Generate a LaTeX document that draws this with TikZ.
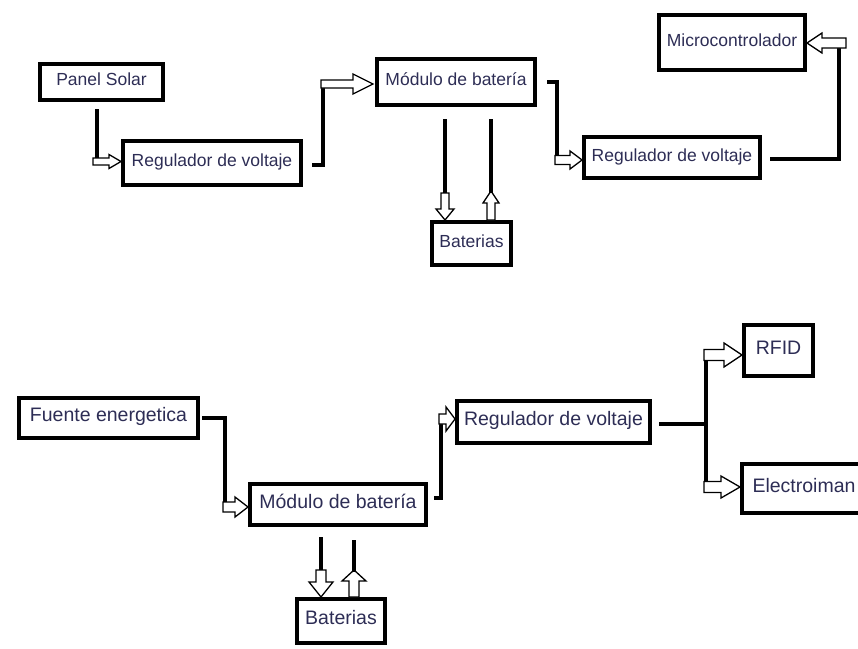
\documentclass[tikz,border=0pt]{standalone}
\usepackage{fontspec}
\setmainfont{Liberation Sans}
\definecolor{ink}{RGB}{45,45,85}
\begin{document}
\begin{tikzpicture}[x=1pt,y=-1pt,
  box/.style={draw=black, line width=4pt, inner sep=0pt, text=ink,
    text height=0.72em, text depth=0pt},
  small/.style={font=\fontsize{17.5}{20}\selectfont},
  large/.style={font=\fontsize{19.5}{22}\selectfont},
  conn/.style={draw=black, line width=4pt},
  arrowline/.style={draw=black, fill=white, line width=1.3pt, line join=miter},
  % hollow block arrow pointing along +x:
  % #1 length, #2 head length, #3 shaft width, #4 head width
  pics/barrow/.style n args={4}{code={
    \draw[arrowline] (0,{#3/2}) -- ({#1-#2},{#3/2}) -- ({#1-#2},{#4/2}) -- (#1,0)
      -- ({#1-#2},{-#4/2}) -- ({#1-#2},{-#3/2}) -- (0,{-#3/2}) -- cycle;
  }}
]
\useasboundingbox (0,0) rectangle (858,648);
\clip (0,0) rectangle (858,648);

% ---------- upper chain ----------
\node[box, small, minimum width=123pt, minimum height=36pt] (solar) at (101.5,82) {Panel Solar};
\node[box, small, minimum width=178pt, minimum height=44pt] (reg1) at (212,163) {Regulador de voltaje};
\node[box, small, minimum width=158pt, minimum height=46pt] (mod1) at (456,82) {Módulo de batería};
\node[box, small, minimum width=79pt, minimum height=43pt] (bat1) at (471.5,243.5) {Baterias};
\node[box, small, minimum width=176pt, minimum height=41pt] (reg2) at (672,157.5) {Regulador de voltaje};
\node[box, small, minimum width=146pt, minimum height=55pt] (micro) at (732,42.5) {Microcontrolador};

\coordinate (u1) at (97,161.5);
\coordinate (u2) at (323,84);
\coordinate (u3) at (445,193);
\coordinate (u4) at (491,193);
\coordinate (u5) at (557,160);
\coordinate (u6) at (839,43);

% Panel Solar -> Regulador
\draw[conn, shorten <=7pt] (solar.south -| u1) -- (u1);
\pic at ([xshift=-4pt]u1) {barrow={28}{12}{7}{14}};
% Regulador -> Modulo
\draw[conn, shorten <=9pt] (reg1.east |- 0,165) -| (u2);
\pic at ([xshift=-2pt]u2) {barrow={52}{20}{8}{20}};
% Modulo <-> Baterias
\draw[conn, shorten <=12pt] (mod1.south -| u3) -- (u3);
\pic[rotate=-90] at (u3) {barrow={27}{11}{8}{18}};
\pic[rotate=90] at (bat1.north -| u4) {barrow={29}{12}{8}{16}};
\draw[conn, shorten <=12pt] (mod1.south -| u4) -- (u4);
% Modulo -> Regulador
\draw[conn, shorten <=10pt] (mod1.east) -| (u5);
\pic at ([xshift=-2pt]u5) {barrow={27}{12}{9}{18}};
% Regulador -> Microcontrolador
\draw[conn, shorten <=8pt] (reg2.east |- 0,159) -| (u6);
\pic[rotate=180] at ([xshift=7pt]u6) {barrow={39}{15}{10}{20}};

% ---------- lower chain ----------
\node[box, large, minimum width=179pt, minimum height=40pt] (fuente) at (108.5,418) {Fuente energetica};
\node[box, large, minimum width=176pt, minimum height=41pt] (mod2) at (338,504.5) {Módulo de batería};
\node[box, large, minimum width=88pt, minimum height=44pt] (bat2) at (341,621) {Baterias};
\node[box, large, minimum width=193pt, minimum height=42pt] (reg3) at (553.5,422) {Regulador de voltaje};
\node[box, large, minimum width=69pt, minimum height=51pt] (rfid) at (778.5,350.5) {RFID};
\node[box, large, minimum width=148pt, minimum height=49pt] (elec) at (816,488.5) {Electroiman\kern24pt};

\coordinate (k1) at (225,507);
\coordinate (k2) at (441,419);
\coordinate (j) at (706,424);
\coordinate (k3) at (706,355);
\coordinate (k4) at (706,487);
\coordinate (k5) at (321,570);
\coordinate (k6) at (354,572);

% Fuente -> Modulo
\draw[conn, shorten <=2pt] (fuente.east) -| (k1);
\pic at ([xshift=-2pt]k1) {barrow={25}{13}{10}{20}};
% Modulo -> Regulador
\draw[conn, shorten <=6pt] (mod2.east |- 0,498) -| (k2);
\pic at ([xshift=-2pt]k2) {barrow={16}{9}{10}{24}};
% Modulo <-> Baterias
\draw[conn, shorten <=10pt] (mod2.south -| k5) -- (k5);
\pic[rotate=-90] at (k5) {barrow={27}{15}{10}{24}};
\pic[rotate=90] at (bat2.north -| k6) {barrow={27}{11}{10}{24}};
\draw[conn, shorten <=13pt] (mod2.south -| k6) -- (k6);
% Regulador -> RFID / Electroiman
\draw[conn, shorten <=7pt] (reg3.east |- j) -- (j);
\draw[conn] (k3) -- (k4);
\pic at ([xshift=-2pt]k3) {barrow={38}{18}{11}{24}};
\pic at ([xshift=-2pt]k4) {barrow={36}{19}{11}{22}};
\end{tikzpicture}
\end{document}
